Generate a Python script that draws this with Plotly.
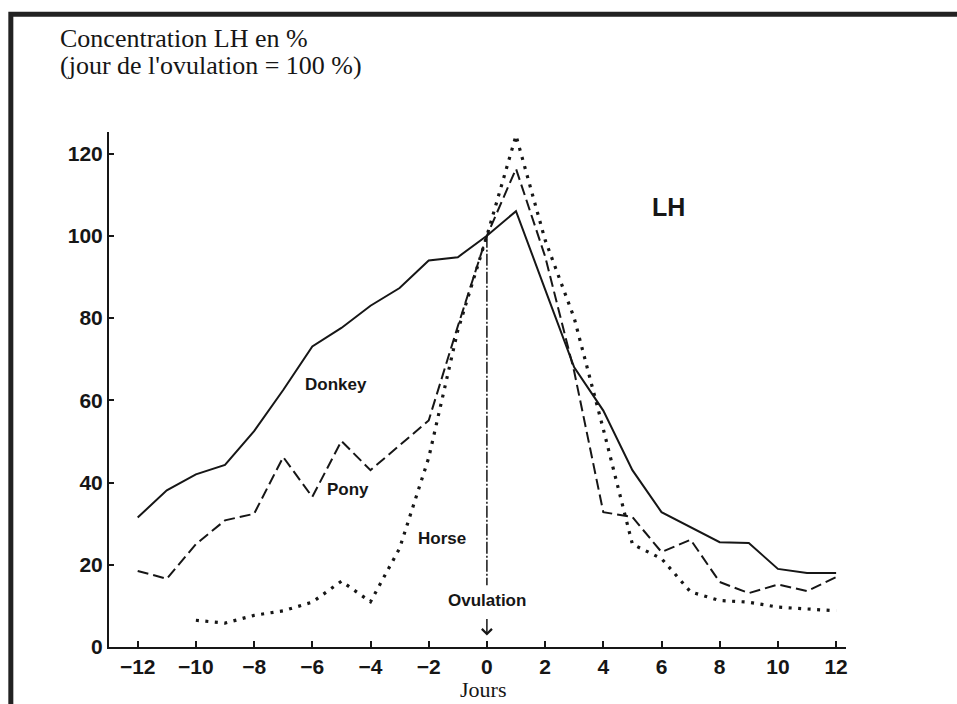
import plotly.graph_objects as go

# LH concentration around ovulation (% of the ovulation-day value)
days = list(range(-12, 13))

donkey = [31.5, 38.1, 42.0, 44.3, 52.5, 62.5, 73.1, 77.6, 83.0, 87.3, 94.0, 94.8,
          100.0, 106.0, 87.0, 68.0, 57.5, 43.0, 32.8, 29.2, 25.5, 25.3, 19.0, 18.0, 18.0]

pony = [18.5, 16.6, 25.0, 30.8, 32.4, 46.2, 36.5, 50.1, 43.0, 49.0, 55.1, 78.0,
        100.0, 116.3, 95.0, 67.0, 32.8, 31.6, 23.1, 26.1, 15.8, 13.1, 15.2, 13.6, 17.0]

horse = [None, None, 6.5, 5.8, 7.7, 8.8, 10.9, 16.0, 11.0, 24.0, 46.0, 77.0,
         100.0, 124.4, 99.0, 80.0, 53.0, 25.0, 21.5, 13.4, 11.3, 10.9, 9.7, 9.3, 8.8]

x_ticks = list(range(-12, 13, 2))
y_ticks = list(range(0, 121, 20))

ovulation_day = 0
ovulation_level = 100
ovulation_line_bottom = 15

INK = "#161616"
SERIF = "Liberation Serif, Times New Roman, serif"
SANS = "Liberation Sans, Arial, Helvetica, sans-serif"

fig = go.Figure()

fig.add_trace(go.Scatter(
    x=days, y=donkey, mode="lines", name="Donkey",
    line=dict(color=INK, width=2),
))
fig.add_trace(go.Scatter(
    x=days, y=pony, mode="lines", name="Pony",
    line=dict(color=INK, width=2, dash="11px,5px"),
))
fig.add_trace(go.Scatter(
    x=days, y=horse, mode="lines", name="Horse",
    line=dict(color=INK, width=3.2, dash="3px,6.5px"),
))
# vertical marker on the ovulation day
fig.add_trace(go.Scatter(
    x=[ovulation_day, ovulation_day], y=[ovulation_level, ovulation_line_bottom],
    mode="lines", line=dict(color=INK, width=1.5, dash="12px,2px,2px,2px"),
))

label_font = dict(family=SANS, size=17, color=INK, weight="bold")
curve_labels = [
    ("Donkey", -5.19, 63.9),
    ("Pony", -4.76, 38.4),
    ("Horse", -1.56, 26.3),
    ("Ovulation", 0.0, 11.4),
]
annotations = [
    dict(x=x, y=y, xref="x", yref="y", text=t, showarrow=False,
         font=label_font, xanchor="center", yanchor="middle")
    for t, x, y in curve_labels
]
annotations.append(dict(
    x=ovulation_day, y=2.8, xref="x", yref="y", ax=0, ay=-18, text="",
    showarrow=True, arrowhead=4, arrowsize=1.3, arrowwidth=1.5, arrowcolor=INK,
))
annotations.append(dict(
    x=6.24, y=107, xref="x", yref="y", text="LH", showarrow=False,
    font=dict(family=SANS, size=25, color=INK, weight="bold"),
    xanchor="center", yanchor="middle",
))
annotations += [
    dict(x=-0.0692, y=1.1806, xref="paper", yref="paper", text="Concentration LH en %",
         showarrow=False, xanchor="left", yanchor="middle",
         font=dict(family=SERIF, size=26, color=INK)),
    dict(x=-0.0692, y=1.1282, xref="paper", yref="paper",
         text="(jour de l'ovulation = 100 %)", showarrow=False,
         xanchor="left", yanchor="middle",
         font=dict(family=SERIF, size=26, color=INK)),
    dict(x=0.5075, y=-0.1113, xref="paper", yref="paper", text="Jours",
         showarrow=False, xanchor="center", yanchor="bottom",
         font=dict(family=SERIF, size=22, color=INK)),
]

# frame around the figure (left and top edges inside the page)
shapes = [dict(
    type="path", xref="paper", yref="paper",
    path="M 1.2,1.2285 L -0.1332,1.2285 L -0.1332,-0.2",
    line=dict(color="#222222", width=5),
)]

axis_common = dict(
    showline=True, linecolor=INK, linewidth=2, showgrid=False, zeroline=False,
    ticks="inside", tickcolor=INK, tickwidth=1.5,
    tickfont=dict(family=SANS, size=21, color=INK, weight="bold"),
)

fig.update_layout(
    width=957, height=704,
    margin=dict(l=109, r=111, t=132, b=57),
    paper_bgcolor="white", plot_bgcolor="white",
    showlegend=False,
    annotations=annotations,
    shapes=shapes,
    xaxis=dict(range=[-12.986, 12.34], tickvals=x_ticks, ticklen=6, **axis_common),
    yaxis=dict(range=[0, 125.25], tickvals=y_ticks, ticklen=5, **axis_common),
)

fig.write_html("out.html")
